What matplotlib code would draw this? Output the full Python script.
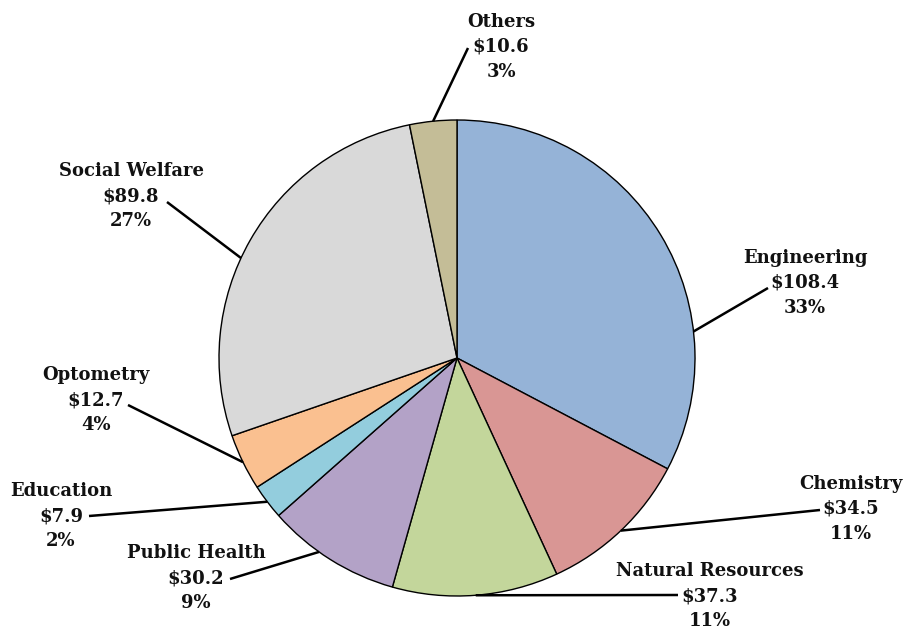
import numpy as np
import matplotlib
matplotlib.use("Agg")
import matplotlib.pyplot as plt

# Spending by school, $ millions (clockwise from 12 o'clock)
categories = ["Engineering", "Chemistry", "Natural Resources", "Public Health",
              "Education", "Optometry", "Social Welfare", "Others"]
amounts = [108.4, 34.5, 37.3, 30.2, 7.9, 12.7, 89.8, 10.6]
amount_labels = ["$108.4", "$34.5", "$37.3", "$30.2", "$7.9", "$12.7", "$89.8", "$10.6"]
share_labels = ["33%", "11%", "11%", "9%", "2%", "4%", "27%", "3%"]

colors = ["#95B3D7", "#D99694", "#C3D69B", "#B3A2C7",
          "#93CDDD", "#FAC090", "#D9D9D9", "#C4BD97"]

# layout (figure pixels, y up): label centre and leader end point
label_pos = [(805, 345), (851, 119), (710, 32), (196, 50),
             (61, 112), (96, 228), (131, 432), (501, 581)]
leader_end = [(768, 340), (820, 118), (678, 33), (230, 49),
              (89, 112), (128, 223), (167, 426), (468, 580)]
# where along each wedge the leader touches the rim (0 = start, 1 = end)
anchor_frac = [0.71, 0.5, 0.5, 0.6, 0.5, 0.5, 0.45, 0.5]

W, H = 905, 628
CX, CY, R = 457, 270, 238

fig = plt.figure(figsize=(W / 100, H / 100), dpi=100)
ax = fig.add_axes([0, 0, 1, 1])

wedges, _ = ax.pie(amounts, colors=colors, startangle=90, counterclock=False,
                   radius=R, center=(CX, CY), frame=True,
                   wedgeprops=dict(edgecolor="black", linewidth=1.0))
ax.set_xlim(0, W)
ax.set_ylim(0, H)
ax.set_aspect("equal")
ax.axis("off")

font = dict(family="DejaVu Serif", fontweight="bold", fontsize=13,
            color="#111111")

for w, name, amt, pct, (lx, ly), (ex, ey), f in zip(
        wedges, categories, amount_labels, share_labels,
        label_pos, leader_end, anchor_frac):
    # counterclock=False: the wedge runs from theta2 down to theta1
    ang = np.deg2rad(w.theta2 - f * (w.theta2 - w.theta1))
    sx, sy = CX + R * np.cos(ang), CY + R * np.sin(ang)
    ax.plot([sx, ex], [sy, ey], color="black", lw=1.8, solid_capstyle="butt")
    ax.text(lx, ly, f"{name}\n{amt}\n{pct}", ha="center", va="center",
            linespacing=1.5, **font)

fig.savefig("out.png", dpi=100)
